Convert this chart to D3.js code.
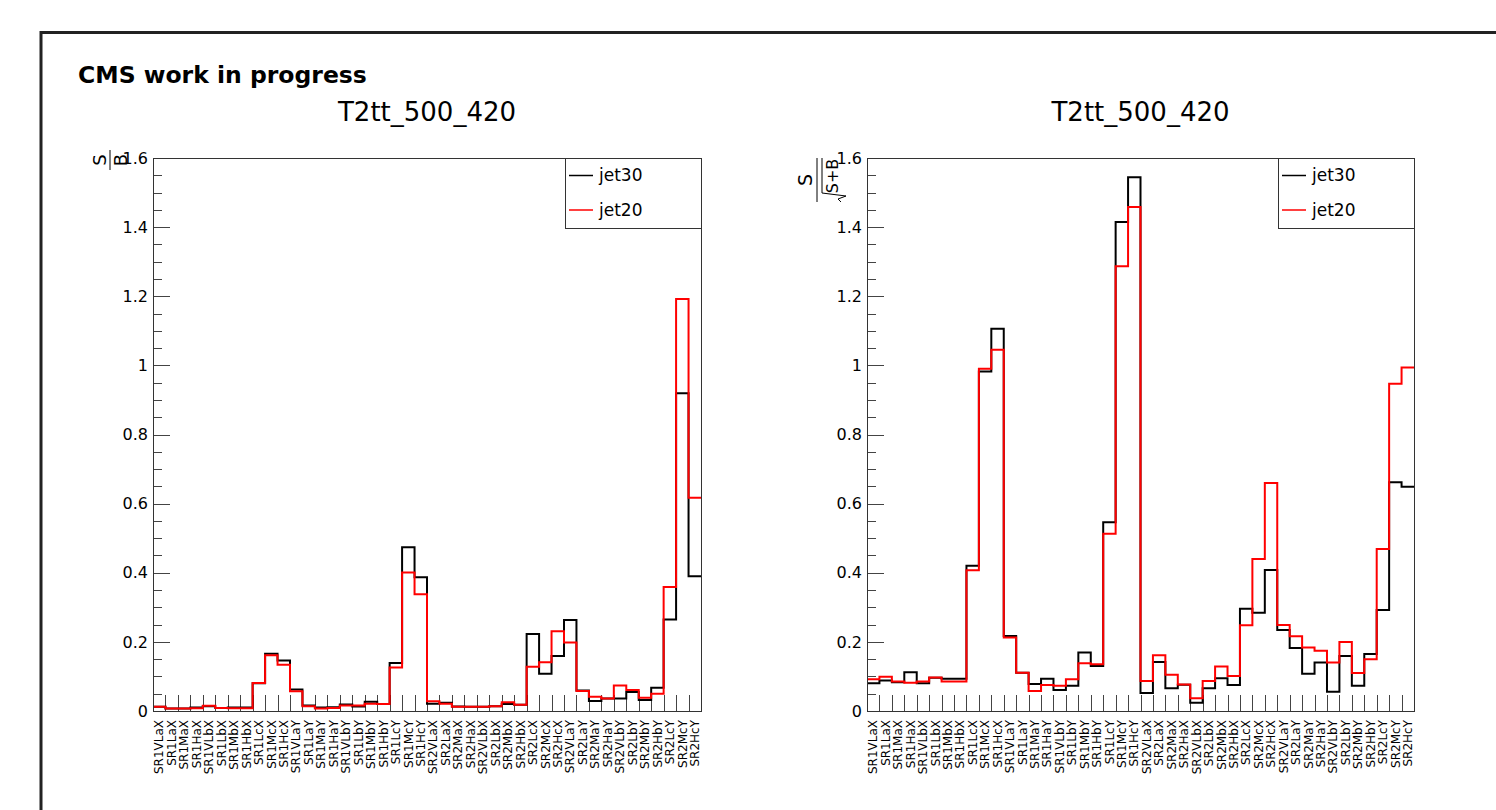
<!DOCTYPE html>
<meta charset="utf-8">
<style>
    body { margin: 0; background: #fff; }
    text { font-family: "DejaVu Sans", "Liberation Sans", sans-serif; fill: #000; }
    .frame { fill: none; stroke: #333; stroke-width: 1; shape-rendering: crispEdges; }
    .tick line { stroke: #444; shape-rendering: crispEdges; }
    .domain { display: none; }
</style>
<body>
<script src="https://cdn.jsdelivr.net/npm/d3@7"></script>
<script>
// bin labels (x axis)
var bins = ["SR1VLaX","SR1LaX","SR1MaX","SR1HaX","SR1VLbX","SR1LbX","SR1MbX","SR1HbX",
    "SR1LcX","SR1McX","SR1HcX","SR1VLaY","SR1LaY","SR1MaY","SR1HaY","SR1VLbY","SR1LbY",
    "SR1MbY","SR1HbY","SR1LcY","SR1McY","SR1HcY","SR2VLaX","SR2LaX","SR2MaX","SR2HaX",
    "SR2VLbX","SR2LbX","SR2MbX","SR2HbX","SR2LcX","SR2McX","SR2HcX","SR2VLaY","SR2LaY",
    "SR2MaY","SR2HaY","SR2VLbY","SR2LbY","SR2MbY","SR2HbY","SR2LcY","SR2McY","SR2HcY"];

// S/B
var sbJet30 = [0.012,0.007,0.007,0.010,0.014,0.009,0.010,0.010,0.080,0.166,0.146,0.062,
    0.016,0.010,0.011,0.019,0.013,0.027,0.020,0.139,0.474,0.387,0.021,0.024,0.013,0.012,
    0.012,0.014,0.020,0.018,0.223,0.108,0.159,0.263,0.059,0.029,0.036,0.036,0.055,0.032,
    0.067,0.265,0.919,0.390];
var sbJet20 = [0.012,0.007,0.007,0.008,0.015,0.009,0.008,0.008,0.081,0.161,0.134,0.057,
    0.014,0.007,0.009,0.016,0.016,0.021,0.020,0.126,0.401,0.338,0.028,0.021,0.012,0.012,
    0.012,0.014,0.025,0.018,0.128,0.141,0.231,0.198,0.058,0.041,0.036,0.074,0.061,0.038,
    0.050,0.359,1.192,0.617];

// S/sqrt(S+B)
var zJet30 = [0.080,0.088,0.083,0.112,0.080,0.096,0.093,0.093,0.420,0.982,1.106,0.217,
    0.111,0.078,0.093,0.061,0.073,0.169,0.130,0.546,1.415,1.544,0.052,0.142,0.066,0.076,
    0.024,0.066,0.095,0.075,0.296,0.284,0.408,0.234,0.182,0.108,0.140,0.056,0.159,0.073,
    0.165,0.292,0.662,0.649];
var zJet20 = [0.092,0.099,0.085,0.082,0.085,0.097,0.085,0.085,0.407,0.990,1.045,0.213,
    0.111,0.058,0.075,0.073,0.092,0.138,0.135,0.513,1.287,1.458,0.087,0.161,0.105,0.077,
    0.037,0.087,0.129,0.101,0.248,0.440,0.660,0.249,0.216,0.184,0.174,0.140,0.200,0.110,
    0.150,0.469,0.947,0.994];

var yTicks = [0, 0.2, 0.4, 0.6, 0.8, 1, 1.2, 1.4, 1.6];
var seriesNames = ["jet30", "jet20"];
var seriesColors = ["#000000", "#ff0000"];

var width = 1496, height = 810;

var svg = d3.select("body").append("svg")
    .attr("width", width)
    .attr("height", height);

// canvas border
svg.append("rect")
    .attr("x", 41).attr("y", 32.5)
    .attr("width", 1600).attr("height", 900)
    .attr("fill", "none").attr("stroke", "#222").attr("stroke-width", 3);

svg.append("text")
    .attr("x", 78).attr("y", 83)
    .style("font-weight", "bold")
    .style("font-size", "23.5px")
    .text("CMS work in progress");

function panel(x0, x1, y0, y1, s30, s20, yTitle) {
    var g = svg.append("g");

    var x = d3.scaleBand().domain(bins).range([x0, x1]);
    var y = d3.scaleLinear().domain([0, 1.6]).range([y1, y0]);

    // title
    g.append("text")
        .attr("x", (x0 + x1) / 2).attr("y", 121)
        .attr("text-anchor", "middle")
        .style("font-size", "26px")
        .text("T2tt_500_420");

    // y axis, ticks pointing inward
    var minor = d3.range(0, 33).map(function (i) { return i * 0.05; });
    g.append("g")
        .attr("transform", "translate(" + x0 + ",0)")
        .call(d3.axisLeft(y).tickValues(minor).tickSize(-8.5).tickFormat(""));
    g.append("g")
        .attr("transform", "translate(" + x0 + ",0)")
        .call(d3.axisLeft(y).tickValues(yTicks).tickSize(-16.5).tickPadding(5)
            .tickFormat(d3.format("~g")))
        .selectAll("text")
        .style("font-size", "16px")
        .style("font-family", "'DejaVu Sans', sans-serif");

    // x axis: ticks at bin edges, labels rotated
    g.append("g")
        .attr("transform", "translate(0," + y1 + ")")
        .call(d3.axisBottom(x).tickSize(0).tickPadding(0))
        .selectAll("text")
        .style("font-size", "12px")
        .style("font-family", "'DejaVu Sans', sans-serif")
        .attr("text-anchor", "end")
        .attr("transform", "rotate(-90)")
        .attr("x", -9).attr("y", 0).attr("dy", "0.35em");
    g.selectAll(".xedge")
        .data(bins.slice(1))
        .enter().append("line")
        .attr("x1", function (d) { return x(d) + 0.5; })
        .attr("x2", function (d) { return x(d) + 0.5; })
        .attr("y1", y1).attr("y2", y1 - 16)
        .attr("stroke", "#444")
        .attr("shape-rendering", "crispEdges");

    // step histograms
    var line = d3.line()
        .x(function (d) { return d[0]; })
        .y(function (d) { return y(d[1]); })
        .curve(d3.curveStepAfter);
    [s30, s20].forEach(function (vals, k) {
        var pts = bins.map(function (b, i) { return [x(b), vals[i]]; });
        pts.push([x1, vals[vals.length - 1]]);
        g.append("path")
            .attr("d", line(pts))
            .attr("fill", "none")
            .attr("stroke", seriesColors[k])
            .attr("stroke-width", 2);
    });

    g.append("rect").attr("class", "frame")
        .attr("x", x0 + 0.5).attr("y", y0 + 0.5)
        .attr("width", x1 - x0).attr("height", y1 - y0);

    // legend
    var lx = x1 - 136, ly = y0;
    g.append("rect").attr("class", "frame")
        .attr("x", lx + 0.5).attr("y", ly + 0.5)
        .attr("width", 136).attr("height", 70)
        .attr("fill", "#fff");
    seriesNames.forEach(function (n, k) {
        var yy = ly + 17.5 + k * 34.5;
        g.append("line")
            .attr("x1", lx + 4).attr("x2", lx + 28)
            .attr("y1", yy).attr("y2", yy)
            .attr("stroke", seriesColors[k]).attr("stroke-width", 1.5);
        g.append("text")
            .attr("x", lx + 34).attr("y", yy).attr("dy", "0.35em")
            .style("font-size", "17px")
            .text(n);
    });

    yTitle(g);
}

panel(153, 701, 158, 711, sbJet30, sbJet20, function (g) {
    var t = g.append("g").attr("transform", "translate(110,160) rotate(-90)");
    t.append("text").attr("x", 0).attr("y", -4).attr("text-anchor", "middle")
        .style("font-size", "18px").text("S");
    t.append("line").attr("x1", -10).attr("x2", 10).attr("y1", 0).attr("y2", 0)
        .attr("stroke", "#000").attr("stroke-width", 1);
    t.append("text").attr("x", 0).attr("y", 17).attr("text-anchor", "middle")
        .style("font-size", "18px").text("B");
});

panel(867, 1414, 158, 711, zJet30, zJet20, function (g) {
    var t = g.append("g").attr("transform", "translate(817,180) rotate(-90)");
    t.append("text").attr("x", 0).attr("y", -5).attr("text-anchor", "middle")
        .style("font-size", "19px").text("S");
    t.append("line").attr("x1", -22).attr("x2", 22).attr("y1", 0).attr("y2", 0)
        .attr("stroke", "#000").attr("stroke-width", 1);
    // square root sign with overline
    t.append("path")
        .attr("d", "M-22,24 L-19,21 L-16,29 L-13,5 L22,5")
        .attr("fill", "none").attr("stroke", "#000").attr("stroke-width", 1);
    t.append("text").attr("x", 4).attr("y", 21).attr("text-anchor", "middle")
        .style("font-size", "16px").text("S+B");
});
</script>
</body>
